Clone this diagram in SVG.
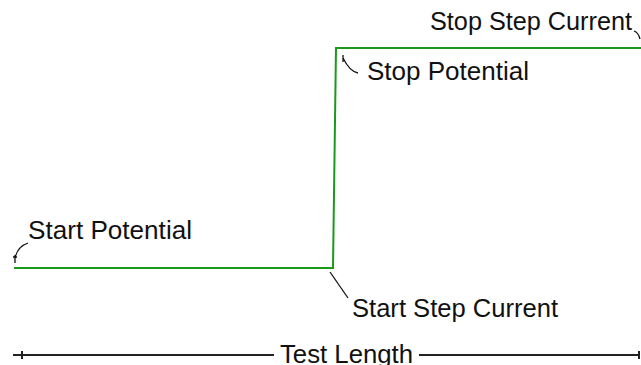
<svg xmlns="http://www.w3.org/2000/svg" width="641" height="365" viewBox="0 0 641 365">
<style>
.t{font-family:"Liberation Sans",Arial,sans-serif;font-size:25px;fill:#111}
.g{fill:none;stroke:#1a9a1a;stroke-width:2}
.l{fill:none;stroke:#111;stroke-width:1.3}
.d{fill:none;stroke:#222;stroke-width:2}
</style>
<rect width="641" height="365" fill="#fff"/>
<g id="waveform"><path class="g" d="M14,268 H333 L336,48 H641"/></g>
<g id="connectors">
<path class="l" d="M28,243 C22,245 17,249 15,258"/>
<path class="l" d="M13,257 H17 M15,255 V263"/>
<path class="l" d="M343,55 V62 M343,58 C347,66 352,72 358,73"/>
<path class="l" d="M330,272 L348,298"/>
<path class="l" d="M634,31 C637,32 639,35 640,39"/>
<path class="d" d="M13,355 H274 M419,355 H640"/>
<path class="d" d="M22,351 V359 M639,351 V359"/>
</g>
<g id="label-start-potential"><text class="t" x="28" y="239" textLength="164" lengthAdjust="spacingAndGlyphs">Start Potential</text></g>
<g id="label-stop-potential"><text class="t" x="367" y="80" textLength="162" lengthAdjust="spacingAndGlyphs">Stop Potential</text></g>
<g id="label-start-step-current"><text class="t" x="352" y="317" textLength="206" lengthAdjust="spacingAndGlyphs">Start Step Current</text></g>
<g id="label-stop-step-current"><text class="t" x="430" y="30" textLength="202" lengthAdjust="spacingAndGlyphs">Stop Step Current</text></g>
<g id="label-test-length"><text class="t" x="280" y="363" textLength="133" lengthAdjust="spacingAndGlyphs">Test Length</text></g>
</svg>
